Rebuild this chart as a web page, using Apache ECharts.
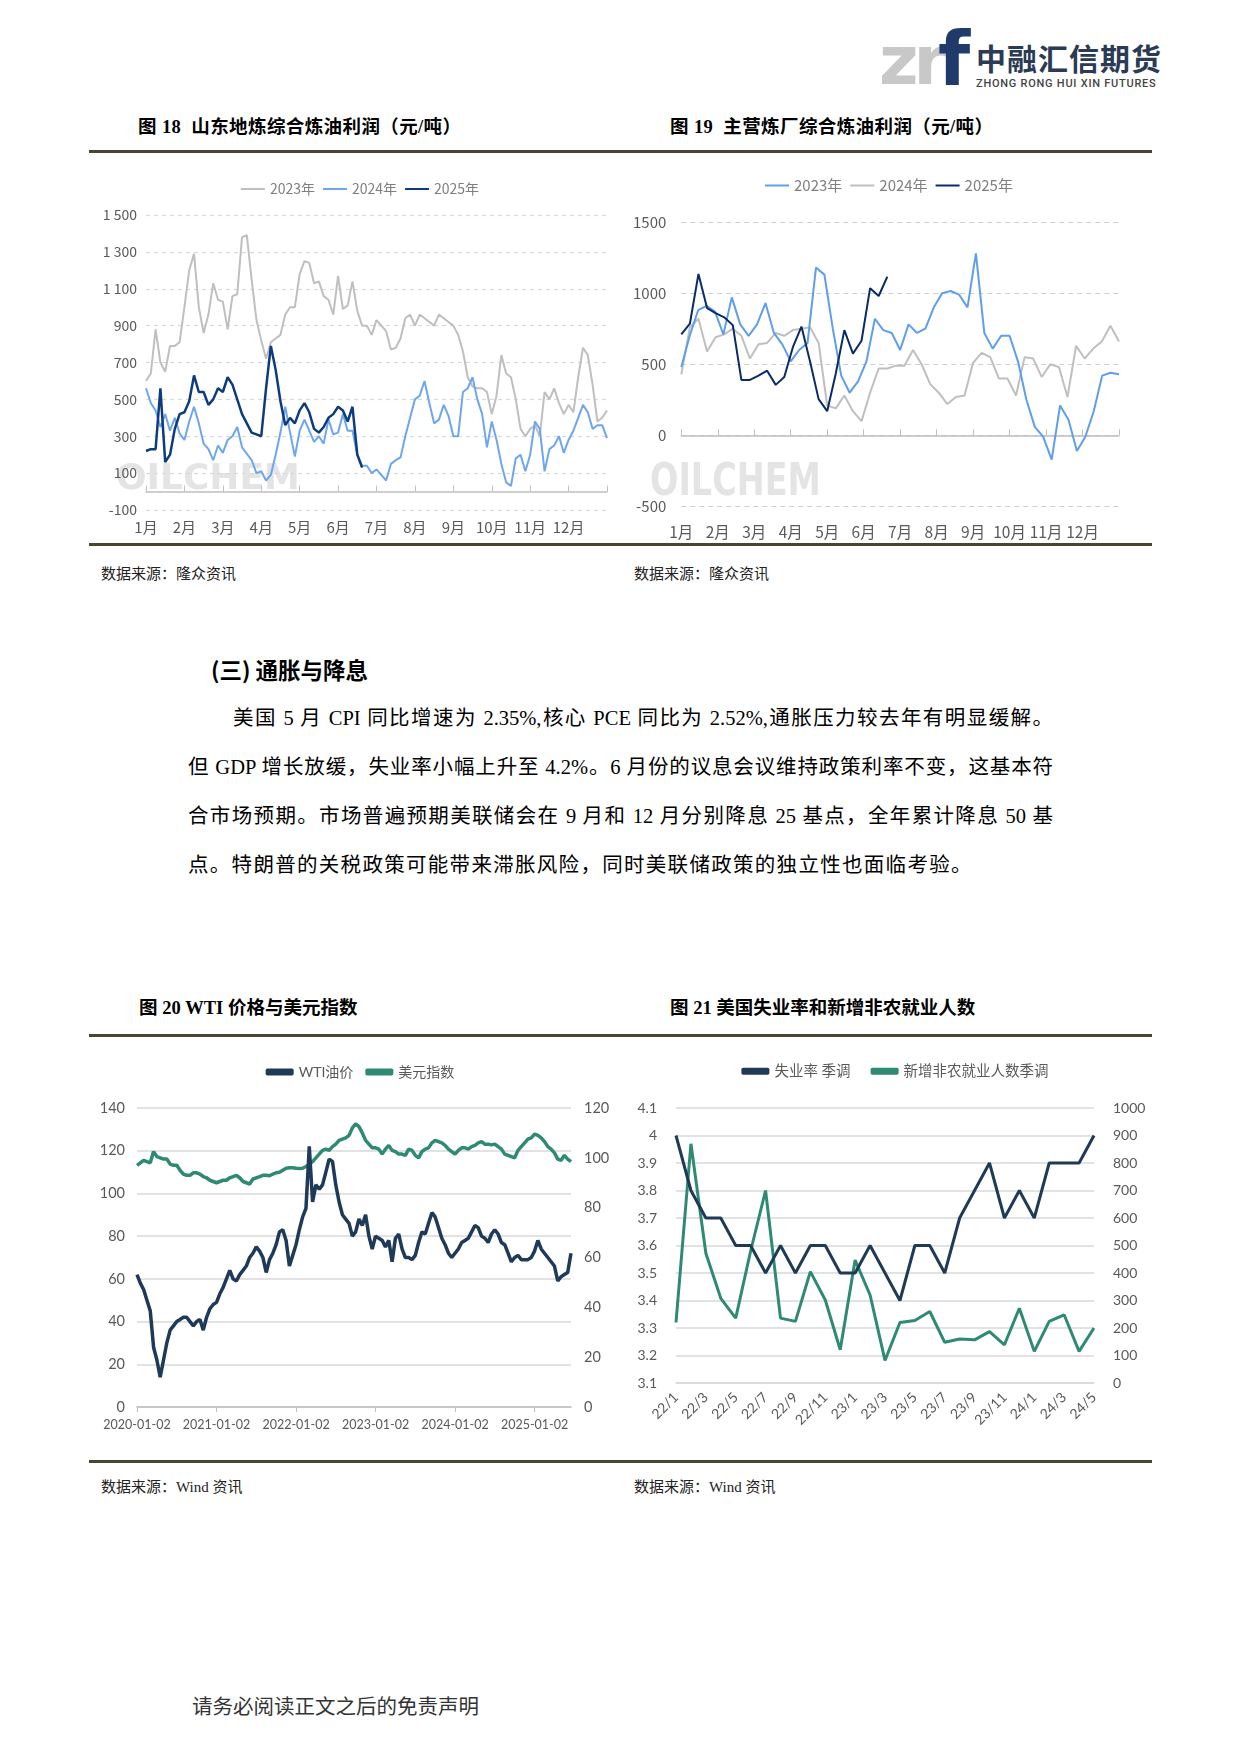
<!DOCTYPE html>
<html><head><meta charset="utf-8">
<script src="https://cdn.jsdelivr.net/npm/echarts@6/dist/echarts.min.js"></script>
<style>
body{margin:0;background:#fff;width:1240px;height:1753px;position:relative;overflow:hidden;font-family:"Liberation Serif","Noto Sans CJK SC",serif;color:#000;}
.abs{position:absolute;white-space:nowrap;}
.title{font-size:18.5px;line-height:24px;font-weight:bold;font-family:"Liberation Serif","Noto Sans CJK SC",serif;}
.rule{position:absolute;left:89px;width:1063px;height:3px;background:#4a4433;}
.src{font-size:15px;line-height:18px;color:#222;font-family:"Liberation Serif","Noto Sans CJK SC",serif;}
.chart{position:absolute;}
.para{position:absolute;font-size:20.5px;line-height:28px;text-align:justify;text-align-last:justify;white-space:nowrap;}
</style></head><body>

<!-- logo -->
<div class="abs" style="left:879px;top:27px;font-family:'DejaVu Sans';font-weight:bold;font-size:68px;line-height:68px;color:#c8c8c8;letter-spacing:-5px;">zr</div>
<div class="abs" style="left:938px;top:22px;font-family:'DejaVu Sans';font-weight:bold;font-size:74px;line-height:74px;color:#1f3a6b;">f</div>
<div class="abs" style="left:976px;top:40px;font-family:'Noto Sans CJK SC';font-weight:bold;font-size:30px;line-height:34px;color:#2b3a55;letter-spacing:1px;">中融汇信期货</div>
<div class="abs" style="left:976px;top:78px;font-family:'Roboto';font-weight:500;font-size:11px;line-height:12px;color:#444;letter-spacing:0.75px;">ZHONG RONG HUI XIN FUTURES</div>

<div class="abs title" style="left:138px;top:115px;letter-spacing:0.4px;">图 18&nbsp; 山东地炼综合炼油利润（元/吨）</div>
<div class="abs title" style="left:670px;top:115px;letter-spacing:0.4px;">图 19&nbsp; 主营炼厂综合炼油利润（元/吨）</div>
<div class="rule" style="top:150px;"></div>
<div id="c18" class="chart" style="left:90px;top:160px;width:540px;height:380px;"></div>
<div id="c19" class="chart" style="left:630px;top:160px;width:530px;height:380px;"></div>
<div class="rule" style="top:543px;"></div>
<div class="abs src" style="left:101px;top:565px;">数据来源：隆众资讯</div>
<div class="abs src" style="left:634px;top:565px;">数据来源：隆众资讯</div>

<div class="abs" style="left:211px;top:655px;font-size:22.5px;line-height:28px;font-weight:bold;font-family:'Noto Sans CJK SC';">(三) 通胀与降息</div>
<div class="para" style="left:233px;top:704px;width:820px;">美国 5 月 CPI 同比增速为 2.35%,核心 PCE 同比为 2.52%,通胀压力较去年有明显缓解。</div>
<div class="para" style="left:188px;top:753px;width:865px;">但 GDP 增长放缓，失业率小幅上升至 4.2%。6 月份的议息会议维持政策利率不变，这基本符</div>
<div class="para" style="left:188px;top:802px;width:865px;">合市场预期。市场普遍预期美联储会在 9 月和 12 月分别降息 25 基点，全年累计降息 50 基</div>
<div class="para" style="left:188px;top:851px;text-align:left;text-align-last:left;letter-spacing:1.3px;">点。特朗普的关税政策可能带来滞胀风险，同时美联储政策的独立性也面临考验。</div>

<div class="abs title" style="left:139px;top:996px;">图 20 WTI 价格与美元指数</div>
<div class="abs title" style="left:670px;top:996px;">图 21 美国失业率和新增非农就业人数</div>
<div class="rule" style="top:1034px;"></div>
<div id="c20" class="chart" style="left:90px;top:1050px;width:540px;height:400px;"></div>
<div id="c21" class="chart" style="left:630px;top:1050px;width:530px;height:400px;"></div>
<div class="rule" style="top:1460px;"></div>
<div class="abs src" style="left:101px;top:1478px;">数据来源：Wind 资讯</div>
<div class="abs src" style="left:634px;top:1478px;">数据来源：Wind 资讯</div>

<div class="abs" style="left:192px;top:1692px;font-size:20.5px;line-height:26px;color:#333;font-family:'Noto Sans CJK SC';">请务必阅读正文之后的免责声明</div>

<script>
// ---------- Data ----------
const yearNames18 = ['2023年', '2024年', '2025年'];
const monthLabels = ['1月','2月','3月','4月','5月','6月','7月','8月','9月','10月','11月','12月'];

// Fig 18: Shandong independent refinery margin (8 samples per month)
const sd2023 = [600,640,880,700,650,790,790,810,1000,1200,1290,1000,860,960,1130,1040,1030,880,1060,1070,1380,1390,1150,930,820,720,810,830,850,960,1000,1000,1180,1250,1240,1130,1140,1060,1040,960,1170,990,1010,1140,980,900,900,850,930,900,870,770,780,830,940,960,900,960,940,920,900,960,940,920,900,850,760,620,570,560,560,540,420,520,740,640,620,500,340,300,340,360,300,540,500,560,480,420,470,430,620,780,740,580,380,400,440];
const sd2024 = [560,480,440,350,420,330,400,315,280,380,460,370,260,230,170,250,210,280,300,350,240,205,170,100,110,60,90,200,320,460,320,190,330,390,330,270,300,260,390,310,320,420,330,330,200,140,140,100,120,90,60,150,170,185,300,400,500,520,600,480,370,390,470,410,300,300,540,560,620,500,420,240,380,280,150,50,30,180,200,110,200,380,340,110,230,250,300,210,280,330,400,470,430,340,360,360,290];
const sd2025 = [220,230,230,560,160,200,340,420,430,490,630,540,540,470,500,560,540,620,580,500,420,370,320,310,300,560,790,660,490,360,400,370,440,480,430,340,320,350,400,420,460,440,380,460,200,130];

// Fig 19: state-owned refinery margin (weekly)
const mr2023 = [480,700,880,910,870,710,970,780,700,780,930,720,640,520,600,650,1180,1130,750,420,300,380,520,820,740,720,600,780,720,750,900,1000,1015,990,900,1280,720,610,700,700,520,250,60,-10,-170,210,110,-110,-10,170,420,440,430];
const mr2024 = [430,760,820,590,690,710,750,700,540,640,650,720,700,740,750,760,650,210,190,280,170,100,300,470,470,490,490,600,500,360,300,220,270,280,510,580,550,400,400,280,550,540,410,500,480,270,630,540,610,660,770,660];
const mr2025 = [710,785,1135,895,860,830,775,390,390,420,455,355,410,620,765,520,255,170,435,740,575,665,1035,980,1115];

// Fig 20: WTI & USD index (semi-monthly, 2020-01-02 .. 2025-06-16)
const wti = [62,58,55,50,45,28,22,14,22,30,36,38,40,41,42,42,40,38,40,41,36,42,46,48,49,53,56,60,64,60,59,62,64,66,70,72,75,73,70,63,69,72,76,82,83,78,66,71,76,83,89,93,122,96,104,102,104,110,116,115,104,96,90,88,86,80,82,88,85,90,80,74,80,79,78,75,78,68,79,81,74,70,70,69,71,77,82,81,86,91,89,84,79,76,72,70,72,74,77,78,79,82,85,84,80,79,77,81,83,81,77,76,72,68,70,71,69,69,69,70,73,78,74,72,70,68,66,59,61,62,63,72];
const dxy = [97,98,99,98.5,98,102.5,100.5,100,99.5,99.5,97.5,97,97,95,93.5,93,93,94,94,93.5,92.5,92,91,90.5,90,90.5,91,91,92,92.5,93,92,90.5,90,89.5,91.5,92,92.5,93,93,92.8,93.5,94,94.2,95,95.8,96,96,95.8,95.7,95.8,96.5,97.5,98.5,100,101.5,103,103.5,103,104.5,105.5,107,107.5,108,109,112,113.6,112.5,110,107,105.5,104,104,103.5,101.5,103.5,105,103,102.5,101.5,101.5,101,103.5,103,101,100,102.5,103.5,104,106,107,106.5,106,105,103.5,102.5,101.5,103,104,104,103.5,104.5,105,106,106.5,105.5,105.5,105.2,105.5,104.5,103.5,101.5,101,100.5,100,103,104.5,106,107.5,108,109.5,109,108,106.5,104.5,103.5,102,99.5,99,101,99.5,98.5];
const wtiDates = [];
for (let y = 2020; y <= 2025; y++) for (let m = 1; m <= 12; m++) for (const d of ['02','16']) {
  if (wtiDates.length < wti.length) wtiDates.push(y + '-' + String(m).padStart(2,'0') + '-' + d);
}

// Fig 21: US unemployment & nonfarm payrolls
const empMonths = ['22/1','22/2','22/3','22/4','22/5','22/6','22/7','22/8','22/9','22/10','22/11','22/12','23/1','23/2','23/3','23/4','23/5','23/6','23/7','23/8','23/9','23/10','23/11','23/12','24/1','24/2','24/3','24/4','24/5'];
const unemp = [4.0,3.8,3.7,3.7,3.6,3.6,3.5,3.6,3.5,3.6,3.6,3.5,3.5,3.6,3.5,3.4,3.6,3.6,3.5,3.7,3.8,3.9,3.7,3.8,3.7,3.9,3.9,3.9,4.0];
const nfp = [220,870,472,308,236,480,700,236,224,405,302,121,447,320,82,220,227,260,148,160,157,187,139,272,115,224,248,115,200];

// ---------- helpers ----------
function pairs(arr, step) { return arr.map((v, i) => [i * step, v]); }
const gray = '#595959';
const cjk = '"Noto Sans CJK SC", sans-serif';
const lat = 'Lato, "Noto Sans CJK SC", sans-serif';

// ---------- Fig 18 ----------
echarts.init(document.getElementById('c18')).setOption({
  animation: false,
  textStyle: { fontFamily: cjk },
  legend: { top: 17, left: 'center', icon: 'rect', itemWidth: 24, itemHeight: 2, itemGap: 8,
    textStyle: { color: '#7f7f7f', fontSize: 14 }, data: yearNames18 },
  grid: { left: 56, top: 55, width: 461, height: 295 },
  graphic: [{ type: 'text', left: 26, top: 302, z: -10, silent: true,
    style: { text: 'OILCHEM', fontFamily: 'DejaVu Sans', fontWeight: 'bold', fontSize: 36, fill: '#e4e4e4' } }],
  xAxis: { type: 'value', min: 0, max: 12, interval: 1,
    axisLine: { onZero: true, lineStyle: { color: '#bfbfbf', width: 1.5 } },
    axisTick: { show: true, inside: true, length: 6, lineStyle: { color: '#bfbfbf' } },
    axisLabel: { formatter: v => v < 12 ? monthLabels[v] : '', color: gray, fontSize: 15, margin: 10 },
    splitLine: { show: false } },
  yAxis: { type: 'value', min: -100, max: 1500, interval: 200,
    axisLine: { show: false }, axisTick: { show: false },
    axisLabel: { color: gray, fontSize: 14, margin: 9,
      formatter: v => Math.abs(v) >= 1000 ? String(v).replace(/(\d)(\d{3})$/, '$1 $2') : String(v) },
    splitLine: { lineStyle: { color: '#d9d9d9', type: [4, 4], width: 1.2 } } },
  series: [
    { name: '2023年', type: 'line', symbol: 'none', data: pairs(sd2023, 1/8), lineStyle: { color: '#bfbfbf', width: 2 }, itemStyle: { color: '#bfbfbf' }, z: 2 },
    { name: '2024年', type: 'line', symbol: 'none', data: pairs(sd2024, 1/8), lineStyle: { color: '#6ea6ee', width: 2 }, itemStyle: { color: '#6ea6ee' }, z: 3 },
    { name: '2025年', type: 'line', symbol: 'none', data: pairs(sd2025, 1/8), lineStyle: { color: '#0e3b7e', width: 2.5 }, itemStyle: { color: '#0e3b7e' }, z: 4 }
  ]
});

// ---------- Fig 19 ----------
echarts.init(document.getElementById('c19')).setOption({
  animation: false,
  textStyle: { fontFamily: cjk },
  legend: { top: 13, left: 130, icon: 'rect', itemWidth: 24, itemHeight: 2, itemGap: 8,
    textStyle: { color: '#7f7f7f', fontSize: 15 }, data: yearNames18 },
  grid: { left: 51, top: 62, width: 438, height: 303 },
  graphic: [{ type: 'text', left: 20, top: 302, z: -10, silent: true,
    style: { text: 'OILCHEM', fontFamily: 'DejaVu Sans', fontWeight: 'bold', fontSize: 44, fill: '#e4e4e4' }, scaleX: 0.76 }],
  xAxis: { type: 'value', min: 0, max: 12, interval: 1,
    axisLine: { onZero: true, lineStyle: { color: '#bfbfbf', width: 1.5 } },
    axisTick: { show: true, inside: true, length: 6, lineStyle: { color: '#bfbfbf' } },
    axisLabel: { formatter: v => v < 12 ? monthLabels[v] : '', color: gray, fontSize: 15.5, margin: 18 },
    splitLine: { show: false } },
  yAxis: { type: 'value', min: -500, max: 1500, interval: 500,
    axisLine: { show: false }, axisTick: { show: false },
    axisLabel: { color: gray, fontSize: 15, margin: 15, formatter: v => String(v) },
    splitLine: { lineStyle: { color: '#cfcfcf', type: [5, 4], width: 1 } } },
  series: [
    { name: '2023年', type: 'line', symbol: 'none', data: pairs(mr2023, 12/52), lineStyle: { color: '#5f9ee8', width: 2 }, itemStyle: { color: '#5f9ee8' }, z: 3 },
    { name: '2024年', type: 'line', symbol: 'none', data: pairs(mr2024, 12/51), lineStyle: { color: '#bfbfbf', width: 2 }, itemStyle: { color: '#bfbfbf' }, z: 2 },
    { name: '2025年', type: 'line', symbol: 'none', data: pairs(mr2025, 12/51), lineStyle: { color: '#0b2b68', width: 2 }, itemStyle: { color: '#0b2b68' }, z: 4 }
  ]
});

// ---------- Fig 20 ----------
echarts.init(document.getElementById('c20')).setOption({
  animation: false,
  textStyle: { fontFamily: lat },
  legend: { top: 10, left: 'center', icon: 'roundRect', itemWidth: 28, itemHeight: 7, itemGap: 12,
    textStyle: { color: gray, fontSize: 14 } },
  grid: { left: 47, top: 58, width: 434, height: 299 },
  xAxis: { type: 'category', data: wtiDates, boundaryGap: false,
    axisLine: { lineStyle: { color: '#bfbfbf', width: 1.5 } },
    axisTick: { show: true, interval: i => i % 24 === 0, length: 5, lineStyle: { color: '#bfbfbf' } },
    axisLabel: { interval: i => i % 24 === 0, hideOverlap: false, color: gray, fontSize: 12.5, margin: 12 } },
  yAxis: [
    { type: 'value', min: 0, max: 140, interval: 20, axisLine: { show: false }, axisTick: { show: false },
      axisLabel: { color: gray, fontSize: 14.5, margin: 12 },
      splitLine: { lineStyle: { color: '#d9d9d9', width: 1.5 } } },
    { type: 'value', min: 0, max: 120, interval: 20, axisLine: { show: false }, axisTick: { show: false },
      axisLabel: { color: gray, fontSize: 14.5, margin: 13 }, splitLine: { show: false } }
  ],
  series: [
    { name: 'WTI油价', type: 'line', symbol: 'none', data: wti, yAxisIndex: 0, lineStyle: { color: '#1f3a58', width: 3.5 }, itemStyle: { color: '#1f3a58' }, z: 3 },
    { name: '美元指数', type: 'line', symbol: 'none', data: dxy, yAxisIndex: 1, lineStyle: { color: '#2e8a73', width: 3.5 }, itemStyle: { color: '#2e8a73' }, z: 2 }
  ]
});

// ---------- Fig 21 ----------
echarts.init(document.getElementById('c21')).setOption({
  animation: false,
  textStyle: { fontFamily: lat },
  legend: { top: 9, left: 'center', icon: 'roundRect', itemWidth: 28, itemHeight: 7, itemGap: 20,
    textStyle: { color: gray, fontSize: 14.5 } },
  grid: { left: 46, top: 58, width: 418, height: 275 },
  xAxis: { type: 'category', data: empMonths, boundaryGap: false,
    axisLine: { lineStyle: { color: '#d9d9d9', width: 1.5 } }, axisTick: { show: false },
    axisLabel: { interval: 1, rotate: 45, color: gray, fontSize: 14, margin: 12 } },
  yAxis: [
    { type: 'value', min: 3.1, max: 4.1, interval: 0.1, axisLine: { show: false }, axisTick: { show: false },
      axisLabel: { color: gray, fontSize: 14, margin: 19, formatter: v => String(Math.round(v * 10) / 10) },
      splitLine: { lineStyle: { color: '#d9d9d9', width: 1.5 } } },
    { type: 'value', min: 0, max: 1000, interval: 100, axisLine: { show: false }, axisTick: { show: false },
      axisLabel: { color: gray, fontSize: 14, margin: 19, formatter: v => String(v) }, splitLine: { show: false } }
  ],
  series: [
    { name: '失业率 季调', type: 'line', symbol: 'none', data: unemp, yAxisIndex: 0, lineStyle: { color: '#1f3a57', width: 3 }, itemStyle: { color: '#1f3a57' }, z: 3 },
    { name: '新增非农就业人数季调', type: 'line', symbol: 'none', data: nfp, yAxisIndex: 1, lineStyle: { color: '#2e8a73', width: 3 }, itemStyle: { color: '#2e8a73' }, z: 2 }
  ]
});
</script>
</body></html>
